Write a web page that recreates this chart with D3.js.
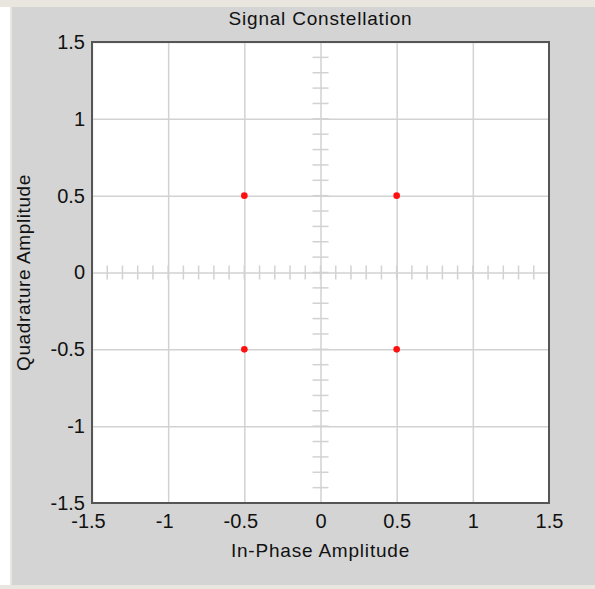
<!DOCTYPE html>
<html>
<head>
<meta charset="utf-8">
<script src="https://cdn.jsdelivr.net/npm/d3@7"></script>
<style>
  body { margin: 0; background: #fff; }
  text { font-family: "Liberation Sans", Arial, sans-serif; fill: #111; }
</style>
</head>
<body>
<div id="container"></div>
<script>
/* CONSTANTS AND GLOBALS */
const width = 595,
  height = 589,
  margin = { top: 42, bottom: 86, left: 92, right: 46 }

// data: constellation points (in-phase, quadrature)
const inPhase = [-0.5, 0.5, -0.5, 0.5]
const quadrature = [0.5, 0.5, -0.5, -0.5]
const xTicks = [-1.5, -1, -0.5, 0, 0.5, 1, 1.5]
const yTicks = [-1.5, -1, -0.5, 0, 0.5, 1, 1.5]
const tickLabels = ["-1.5", "-1", "-0.5", "0", "0.5", "1", "1.5"]
const minorTicks = d3.range(-15, 16).map(i => i / 10)

const points = inPhase.map((d, i) => ({ i: d, q: quadrature[i] }))

const svg = d3.select("#container")
  .append("svg")
  .attr("width", width)
  .attr("height", height)

// window frame
svg.append("rect").attr("x", 0).attr("y", 0).attr("width", width).attr("height", 7).attr("fill", "#e8e6df")
svg.append("rect").attr("x", 10).attr("y", 0).attr("width", 2).attr("height", height).attr("fill", "#e8e6df")
svg.append("rect").attr("x", 0).attr("y", 585).attr("width", width).attr("height", 4).attr("fill", "#e8e6df")
svg.append("rect").attr("x", 12).attr("y", 7).attr("width", width - 12).attr("height", 578).attr("fill", "#d4d4d4")

const xScale = d3.scaleLinear()
  .domain([-1.5, 1.5])
  .range([margin.left, 549])

const yScale = d3.scaleLinear()
  .domain([-1.5, 1.5])
  .range([503, margin.top])

const x0 = xScale.range()[0], x1 = xScale.range()[1]
const y0 = yScale.range()[1], y1 = yScale.range()[0]

svg.append("rect")
  .attr("x", x0).attr("y", y0)
  .attr("width", x1 - x0).attr("height", y1 - y0)
  .attr("fill", "#fff")

// grid lines
const gridColor = "#d2d2d2"
svg.append("g")
  .attr("transform", `translate(0,${y1})`)
  .call(d3.axisBottom(xScale).tickValues(xTicks).tickSize(-(y1 - y0)).tickFormat(""))
  .call(g => g.select(".domain").remove())
  .call(g => g.selectAll("line").attr("stroke", gridColor).attr("stroke-width", 1.5))

svg.append("g")
  .attr("transform", `translate(${x0},0)`)
  .call(d3.axisLeft(yScale).tickValues(yTicks).tickSize(-(x1 - x0)).tickFormat(""))
  .call(g => g.select(".domain").remove())
  .call(g => g.selectAll("line").attr("stroke", gridColor).attr("stroke-width", 1.5))

// minor ticks on the centre axes
svg.append("g")
  .selectAll("line")
  .data(minorTicks)
  .join("line")
  .attr("x1", d => xScale(d)).attr("x2", d => xScale(d))
  .attr("y1", yScale(0) - 7).attr("y2", yScale(0) + 7)
  .attr("stroke", gridColor).attr("stroke-width", 1.5)

svg.append("g")
  .selectAll("line")
  .data(minorTicks)
  .join("line")
  .attr("y1", d => yScale(d)).attr("y2", d => yScale(d))
  .attr("x1", xScale(0) - 8).attr("x2", xScale(0) + 8)
  .attr("stroke", gridColor).attr("stroke-width", 1.5)

// plot border
svg.append("rect")
  .attr("x", x0).attr("y", y0)
  .attr("width", x1 - x0).attr("height", y1 - y0)
  .attr("fill", "none")
  .attr("stroke", "#555")
  .attr("stroke-width", 2)

// tick labels
svg.append("g")
  .attr("transform", `translate(0,${y1})`)
  .call(d3.axisBottom(xScale).tickValues(xTicks).tickSize(0).tickPadding(11)
    .tickFormat((d, i) => tickLabels[i]))
  .call(g => g.select(".domain").remove())
  .call(g => g.selectAll("text")
    .attr("font-size", 20)
    .attr("font-family", null)
    .attr("dx", d => d < 0 ? -4 : 0)
    .attr("fill", "#111"))

svg.append("g")
  .attr("transform", `translate(${x0},0)`)
  .call(d3.axisLeft(yScale).tickValues(yTicks).tickSize(0).tickPadding(7)
    .tickFormat((d, i) => tickLabels[i]))
  .call(g => g.select(".domain").remove())
  .call(g => g.selectAll("text")
    .attr("font-size", 20)
    .attr("font-family", null)
    .attr("fill", "#111"))

// constellation points
svg.append("g")
  .selectAll("circle")
  .data(points)
  .join("circle")
  .attr("cx", d => xScale(d.i))
  .attr("cy", d => yScale(d.q))
  .attr("r", 3.3)
  .attr("fill", "#ff1010")

// titles
svg.append("text")
  .attr("x", (x0 + x1) / 2).attr("y", 25)
  .attr("text-anchor", "middle")
  .attr("font-size", 19)
  .attr("letter-spacing", 0.8)
  .text("Signal Constellation")

svg.append("text")
  .attr("x", (x0 + x1) / 2).attr("y", 557)
  .attr("text-anchor", "middle")
  .attr("font-size", 19)
  .attr("letter-spacing", 0.8)
  .text("In-Phase Amplitude")

svg.append("text")
  .attr("transform", `translate(30,${(y0 + y1) / 2}) rotate(-90)`)
  .attr("text-anchor", "middle")
  .attr("font-size", 19)
  .attr("letter-spacing", 0.6)
  .text("Quadrature Amplitude")
</script>
</body>
</html>
